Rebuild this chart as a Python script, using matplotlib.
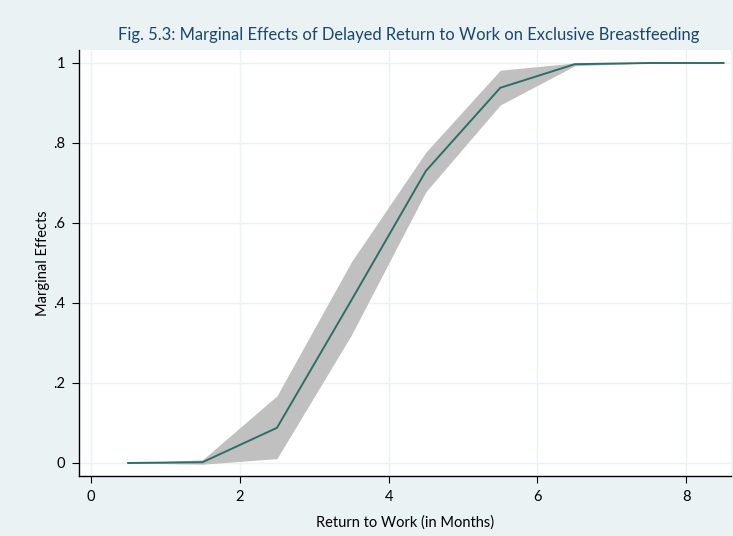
import matplotlib
matplotlib.use("Agg")
import matplotlib.pyplot as plt

months = [0.5, 1.5, 2.5, 3.5, 4.5, 5.5, 6.5, 7.5, 8.5]
effect = [0.0, 0.002, 0.088, 0.407, 0.73, 0.938, 0.997, 1.0, 1.0]
ci_low = [0.0, -0.003, 0.011, 0.32, 0.678, 0.895, 0.993, 1.0, 1.0]
ci_high = [0.0, 0.008, 0.168, 0.503, 0.777, 0.982, 1.0, 1.0, 1.0]
xticks = [0, 2, 4, 6, 8]
yticks = [0, 0.2, 0.4, 0.6, 0.8, 1.0]
ytick_labels = ["0", ".2", ".4", ".6", ".8", "1"]

plt.rcParams['font.family'] = ['Lato', 'DejaVu Sans']

bg = '#EAF2F3'
fig = plt.figure(figsize=(7.33, 5.36), dpi=100, facecolor=bg)
ax = fig.add_axes([79/733, 1 - 476/536, (731 - 79)/733, (476 - 50)/536])
ax.set_facecolor('white')

ax.fill_between(months, ci_low, ci_high, color='#C0C0C0', linewidth=0, zorder=2)
ax.plot(months, effect, color='#2E6E65', linewidth=1.4, zorder=3)

ax.set_xlim(-0.16, 8.6)
ax.set_ylim(-0.0325, 1.0325)
ax.set_xticks(xticks)
ax.set_yticks(yticks)
ax.set_yticklabels(ytick_labels)
ax.grid(True, color='#EAF2F3', linewidth=1.0, zorder=0)
ax.set_axisbelow(True)
for s in ['top', 'right']:
    ax.spines[s].set_visible(False)
for s in ['left', 'bottom']:
    ax.spines[s].set_color('black')
    ax.spines[s].set_linewidth(1.0)
ax.tick_params(axis='both', length=5, width=0.8, color='black', labelsize=10.5, pad=5)
ax.set_xlabel('Return to Work (in Months)', fontsize=10.5, labelpad=8)
ax.set_ylabel('Marginal Effects', fontsize=10.5, labelpad=2)

fig.text(409/733, 1 - 35/536, 'Fig. 5.3: Marginal Effects of Delayed Return to Work on Exclusive Breastfeeding',
         ha='center', va='center', fontsize=11.9, color='#1A476F')

fig.savefig('out.png', dpi=100, facecolor=bg)
